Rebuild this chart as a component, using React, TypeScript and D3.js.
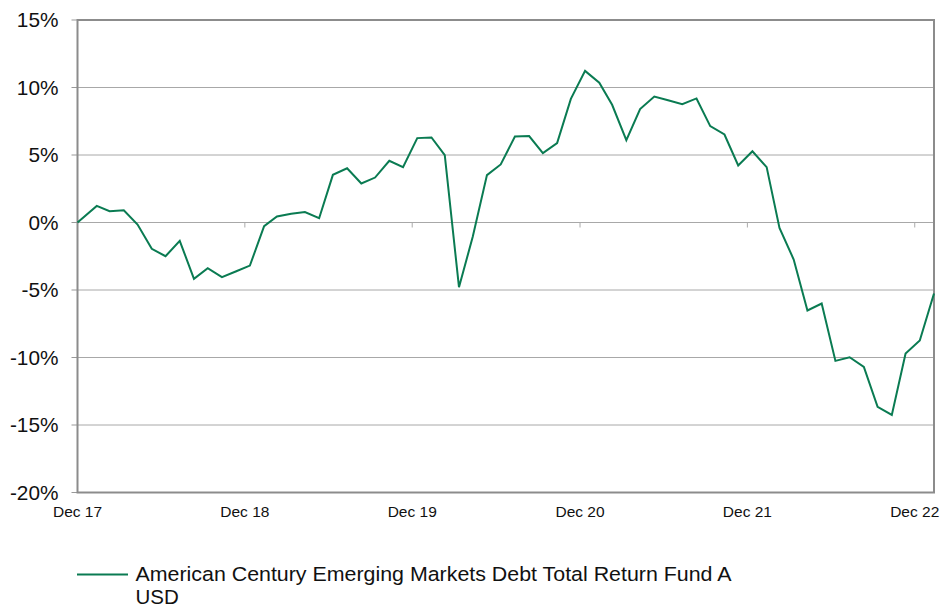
import React from "react";
import * as d3 from "d3";

const dates: string[] = [
  "2017-12-20",
  "2018-01-31","2018-02-28","2018-03-31","2018-04-30","2018-05-31","2018-06-30",
  "2018-07-31","2018-08-31","2018-09-30","2018-10-31","2018-11-30","2018-12-31",
  "2019-01-31","2019-02-28","2019-03-31","2019-04-30","2019-05-31","2019-06-30",
  "2019-07-31","2019-08-31","2019-09-30","2019-10-31","2019-11-30","2019-12-31",
  "2020-01-31","2020-02-29","2020-03-31","2020-04-30","2020-05-31","2020-06-30",
  "2020-07-31","2020-08-31","2020-09-30","2020-10-31","2020-11-30","2020-12-31",
  "2021-01-31","2021-02-28","2021-03-31","2021-04-30","2021-05-31","2021-06-30",
  "2021-07-31","2021-08-31","2021-09-30","2021-10-31","2021-11-30","2021-12-31",
  "2022-01-31","2022-02-28","2022-03-31","2022-04-30","2022-05-31","2022-06-30",
  "2022-07-31","2022-08-31","2022-09-30","2022-10-31","2022-11-30","2022-12-31",
  "2023-01-31",
];

const fundValues: number[] = [
  0,
  1.23, 0.84, 0.91, -0.15, -1.95, -2.5,
  -1.36, -4.17, -3.38, -4.05, -3.63, -3.19,
  -0.27, 0.44, 0.64, 0.77, 0.32, 3.53,
  4.02, 2.89, 3.33, 4.57, 4.1, 6.25,
  6.3, 4.99, -4.79, -1.06, 3.51, 4.3,
  6.37, 6.4, 5.14, 5.88, 9.16, 11.23,
  10.35, 8.72, 6.1, 8.4, 9.33, 9.05,
  8.77, 9.19, 7.14, 6.52, 4.22, 5.28,
  4.1, -0.4, -2.74, -6.52, -6.0, -10.25,
  -9.98, -10.69, -13.65, -14.25, -9.7, -8.74,
  -5.26,
];

const xTickDates: string[] = ["2017-12-20", "2018-12-20", "2019-12-20", "2020-12-20", "2021-12-20", "2022-12-20"];
const xTickLabels: string[] = ["Dec 17", "Dec 18", "Dec 19", "Dec 20", "Dec 21", "Dec 22"];
const yTicks: number[] = [15, 10, 5, 0, -5, -10, -15, -20];
const seriesName = "American Century Emerging Markets Debt Total Return Fund A";
const seriesName2 = "USD";

const W = 942;
const H = 608;
const left = 77.5;
const right = 934;
const top = 20;
const bottom = 492.5;
const FONT = "'Liberation Sans', Arial, sans-serif";
const GREEN = "#0a7b52";

export default function App() {
  const parse = d3.utcParse("%Y-%m-%d");
  const data = dates.map((d, i) => ({ date: parse(d) as Date, v: fundValues[i] }));
  const x = d3
    .scaleUtc()
    .domain([parse(dates[0]) as Date, parse(dates[dates.length - 1]) as Date])
    .range([left, right]);
  const y = d3.scaleLinear().domain([-20, 15]).range([bottom, top]);
  const line = d3
    .line<{ date: Date; v: number }>()
    .x((d) => x(d.date))
    .y((d) => y(d.v));

  return (
    <svg
      width={W}
      height={H}
      style={{ position: "absolute", left: 0, top: 0, background: "#fff" }}
      fontFamily={FONT}
    >
      {yTicks.map((t) => (
        <g key={t}>
          <line x1={left} x2={right} y1={y(t)} y2={y(t)} stroke="#a8a8a8" strokeWidth={1} />
          <line x1={left - 6} x2={left} y1={y(t)} y2={y(t)} stroke="#999" strokeWidth={1} />
          <text x={58.5} y={y(t)} dy="0.36em" textAnchor="end" fontSize={20.8} fill="#111">
            {t}%
          </text>
        </g>
      ))}
      {xTickDates.map((d, i) => {
        const xx = x(parse(d) as Date);
        return (
          <g key={d}>
            {i > 0 && <line x1={xx} x2={xx} y1={y(0)} y2={y(0) + 5} stroke="#aaa" strokeWidth={1} />}
            <text x={xx} y={517} textAnchor="middle" fontSize={15.5} fill="#111">
              {xTickLabels[i]}
            </text>
          </g>
        );
      })}
      <rect
        x={left}
        y={top}
        width={right - left}
        height={bottom - top}
        fill="none"
        stroke="#8c8c8c"
        strokeWidth={2}
      />
      <path d={line(data) || ""} fill="none" stroke={GREEN} strokeWidth={2} strokeLinejoin="miter" />
      <line x1={77} x2={128} y1={574.5} y2={574.5} stroke={GREEN} strokeWidth={2} />
      <text
        x={135.5}
        y={580.5}
        fontSize={20.5}
        fill="#111"
        textLength={596}
        lengthAdjust="spacingAndGlyphs"
      >
        {seriesName}
      </text>
      <text x={135.5} y={604} fontSize={20.5} fill="#111">
        {seriesName2}
      </text>
    </svg>
  );
}
